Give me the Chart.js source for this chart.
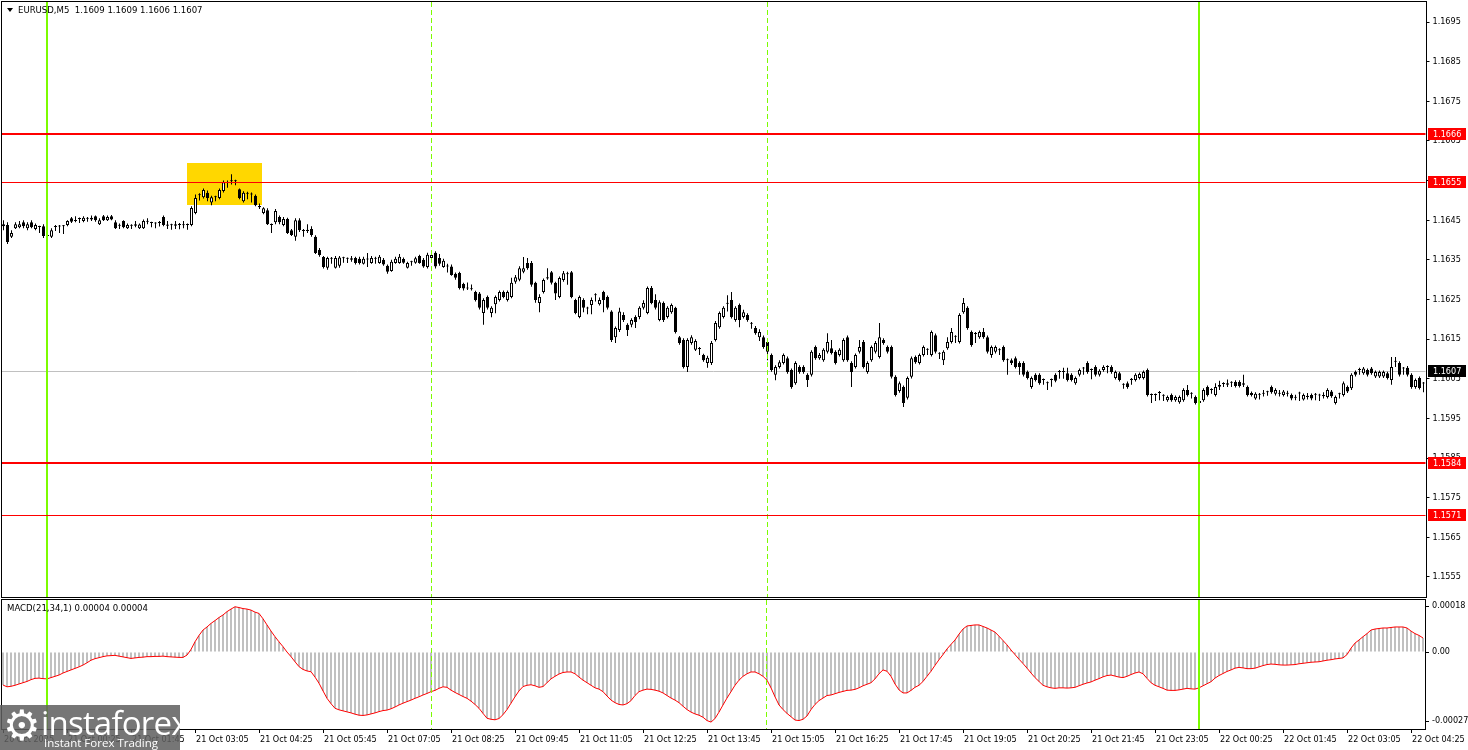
<!DOCTYPE html>
<html><head><meta charset="utf-8">
<script src="https://cdn.jsdelivr.net/npm/chart.js@4.4.0/dist/chart.umd.min.js"></script>
<style>
html,body{margin:0;padding:0;background:#fff;width:1468px;height:750px;overflow:hidden;}
#cMain{position:absolute;left:0;top:0;}
#cMacd{position:absolute;left:0;top:599px;}
#wm{position:absolute;left:0;top:705px;width:180px;height:45px;background:rgba(96,96,96,0.86);color:#fff;overflow:hidden;font-family:'Open Sans','DejaVu Sans',sans-serif;}
#wm .gear{position:absolute;left:3px;top:-3px;font-size:42px;line-height:48px;font-family:'DejaVu Sans';}
#wm .big{position:absolute;left:41px;top:0px;font-size:33px;line-height:36px;letter-spacing:-0.8px;}
#wm .small{position:absolute;left:44px;top:31px;font-size:11.5px;line-height:13px;}
</style></head><body>
<canvas id="cMain" width="1468" height="599"></canvas>
<canvas id="cMacd" width="1468" height="151"></canvas>
<div id="wm"><span class="gear">⚙</span><span class="big">instaforex</span><span class="small">Instant Forex Trading</span></div>
<script>
// ---------- DATA ----------
// EURUSD M5 prices, stored as pips above BASE (price = BASE + pips * PIP)
const BASE = 1.16, PIP = 0.0001;
const openPips = [
44,43.8,40.8,43,43.2,44.5,43,44.5,42.8,43.5,
43.5,41.2,40.8,43.5,43.5,43.5,43.8,45.5,44.8,45.5,
44.8,45.6,45.2,46,44,46,45,46,44.5,43.8,
44.8,43,43.8,43.6,43,43,44.6,44.4,44.3,44.5,
45.8,43.6,43.9,43.6,44,43.7,44,43.8,46.8,51.5,
50.8,51.9,49.5,51,50.6,52.4,54.6,54.8,55,52.8,
49.8,51.9,51.7,51.2,48.3,46.8,47.5,44,44.5,45.8,
43.8,45.3,42.5,40.8,45,42.5,42.3,42.8,40.8,37.5,
35.7,33,35.5,33,33.5,35.6,35.4,35,35.5,35.3,
34,35.3,34.2,35.5,34.2,35,33.5,32.2,34.2,34.2,
35.2,33,34.6,34.3,36,35,33.2,35.5,36.8,35.5,
33.2,33.5,33.3,31.5,31.7,28.9,28,27.8,26.9,26.5,
21.6,25.6,21.6,23.8,24.9,26.9,24.9,25.6,29.5,30,
32,34.2,34.2,29.2,24.1,26.9,30.3,31.9,29.2,25.6,
29.9,31.6,31.9,24.9,20.6,24.9,22.9,23.6,26.3,23.8,
26.9,25.6,22,15.5,17.3,21.1,18.6,18.6,20.6,20.6,
22.9,21.6,27.9,24.9,19.8,24.1,20.6,21.8,22.9,15.5,
14.8,8,14,12.3,12.7,11,9,9,14.8,18,
20.6,23.9,24.9,19.8,23.6,20.6,21.1,19.1,17.8,15.5,
15.5,14.3,11,6,8,9,10.2,7.2,3.9,8,
8,6,6,13,10.2,9.7,11.8,12.7,11.8,11,
9.7,15.5,9,8,11.8,14.3,6.7,9.7,11.8,10.5,
14.8,13,13,5.5,1.9,2.9,0.2,5.5,10.5,9,
11,12.5,11,16,11.5,9.7,12.7,14.3,15.8,14.3,
21.8,22.9,16.8,16.5,15.5,16.8,15.5,11,11.8,12.4,
13,9.9,9.7,10.2,9,9,6.7,2.9,6,6,
4.9,4.1,4.9,6,6.9,6.9,6.4,6,3.9,6,
7.8,9,7.4,8,6,7.2,8.2,8,5.2,6.4,
3.7,3.9,5,4.7,5.2,5.2,7.2,1.1,1.1,1.6,
0.9,-0.4,0.9,-0.4,-0.9,-0.4,2.2,1.4,0.4,-0.6,
-0.4,2.9,2.4,0.9,3,3.9,3.5,4.2,4.2,4.2,
3.5,2.9,1.4,0,1.2,1.2,1.8,2.9,1.2,1.2,
0.9,1.2,0.9,0.2,1.5,-0.2,0.4,0.9,1.2,1,
0.6,0.4,1.8,-1.1,1.3,0.9,2.9,2.6,6.7,7.4,
6.4,7.2,7.6,5.6,5.6,5.6,6.4,4.7,9.5,9,
7.8,7.8,6,2.9,5.2,4];
const highPips = [
45,44.5,42.5,44.5,44.8,45,44.5,45,44.2,43.6,
44,41.5,43,43.8,43.8,43.8,45,45.8,46,45.7,
46,45.8,46.2,46.2,45.5,46.3,46.2,46.3,45,44.2,
45,44.2,44,44.8,44.2,45.2,45.5,44.6,44.5,44.8,
46.2,44.8,44.1,44.8,44.3,44.8,44.2,48.5,51.5,51.8,
53,52.5,51.2,51.2,53,55,55,56.6,55.2,53,
52.3,52.2,52,51.5,49.2,48.3,48,44.2,47.8,46.2,
45.8,45.6,42.8,45.5,45.5,42.8,44,43.5,41.2,38,
36,35.8,35.7,36,36,35.8,35.6,36,35.8,35.8,
35.8,36.7,36,35.8,36.2,35.5,33.8,35,35.8,36.5,
35.6,34.5,34.8,35.8,36.3,35.5,36.8,36.6,37.2,36.5,
35.3,34,33.8,31.8,32,29.2,29.3,28.8,27.2,26.9,
25.3,26,23.3,26,27.3,27.3,27.3,30.5,31.2,33.4,
35.7,35.5,34.7,29.5,26.3,30.3,32.9,32.2,29.5,30.8,
32.2,32,32.2,25.2,26,25.3,23.2,25.5,26.6,25.5,
27.2,26,22.3,18.2,22.9,21.8,19,20.3,21,23.3,
24.8,28.3,28.4,26.3,24.8,24.5,23.3,24,23.2,15.8,
15.2,15.2,16,15,13,11.3,10.8,14.5,19.6,22,
23.3,26.1,26.9,23.3,24,22.4,21.5,19.3,18.3,17.5,
15.9,14.8,11.4,8.4,9.7,11.4,10.6,7.6,9.4,8.4,
8.4,6.4,12.2,13.4,11.5,12.7,16.5,14.8,12.2,12.7,
15.2,15.9,9.4,11.4,14.8,14.8,9.4,13.4,14.5,19.1,
15.2,13.4,13.4,5.9,4.3,3.3,5.6,10.6,10.9,11.4,
13.4,12.7,17.2,16.4,11.7,12.2,15.5,17.8,16,21.5,
25.4,23.3,17.2,16.8,17.2,17.8,15.9,13.4,13.4,12.7,
13.4,10.1,10.1,10.6,9.4,9.4,7.1,5.6,6.4,6.4,
5.1,4.3,5.1,6.4,7.2,7.8,7.8,6.4,5.6,7.6,
8,9.4,7.6,8.4,7.4,8.4,8.4,8.4,7.1,6.8,
3.9,4.3,5.2,6.4,6.6,7.1,7.6,1.3,1.3,1.9,
1.1,0.8,1.3,0.8,0.8,2.6,3.4,1.6,0.8,0.4,
2.6,3.3,2.6,3.9,4.5,4.1,4.8,4.4,4.6,4.6,
6,3.3,1.8,1.6,1.4,2.2,2,3.3,2.6,2.2,
2.2,2,1.3,1,1.7,1.3,1.4,1.3,1.4,1.2,
1.6,2.6,2.2,0.8,1.5,4.3,3.3,6.4,7.1,7.8,
8,7.6,8,7.1,7.1,7.1,6.8,10.5,10.5,9.4,
8,8.2,6.4,5.1,5.6,4.2];
const lowPips = [
42.5,39,40.5,42.8,43,43,42.5,43,42.5,41.8,
40.5,40,40.5,42.3,41.8,41.5,43.5,44.3,44.5,44.3,
44.5,44.6,44.8,44.6,43.8,44.8,44.8,45,42.8,42.8,
43,42.8,42.8,43.2,42.8,42.8,44,43.2,43,43.4,
43.5,42.8,42.6,42.8,42.7,43,42.6,43.5,46.5,50,
50.5,49.8,48.8,49.8,50.3,52,53.2,54,53.8,50.3,
49.5,50.3,49.5,48.5,47.8,46.5,43.8,41.8,44,44,
43.5,41.5,41,39.8,42,40.8,41.8,40.8,36.5,35.8,
32.8,32.5,34,32.8,33,34.3,34.2,34.5,33.8,33.8,
33.8,33.2,34,34,34,33.5,31.5,32,34,34,
34,32.8,33.5,34,34,33,32.8,35,32.8,33.5,
33,31.8,31,30,27.5,27.3,27.4,27.3,24.5,22.5,
18.6,22.5,20.5,21.5,24.5,25.3,24.5,25.3,29,29.6,
31.6,32.5,28.2,24.2,21.8,26.5,30,28.8,24.9,25.3,
29.5,28.7,25.3,21.3,20.3,21.8,21.3,21.3,24.5,23.5,
21.8,22.5,14.3,14,16.8,19.3,15.8,18,17.8,20,
22.5,21.3,23.8,22.5,19.5,19.3,20.2,21.4,16.4,13.6,
7.6,6.7,13.6,12,11,9.3,7.8,8.5,14.4,17.6,
20.2,22,20.2,19.4,18,20.2,19.4,17.6,16.1,14.5,
12.6,9.7,6.8,4.6,7.6,8.6,6.3,2.5,3.5,6.3,
6.3,2.9,5.6,9.8,9.8,9.3,11.4,11.1,8.6,10.6,
9.3,9.3,2.9,7.6,11.4,7.6,6.3,9.3,11.4,10.1,
13.6,11.4,5.1,0.5,1.5,-2.1,-0.2,5.1,8.8,8.6,
10.6,11,10.6,11.4,10,8.5,12.3,13.9,14,13.9,
21.4,17.4,13.1,14,15.1,15.1,11.4,10.3,11.4,11,
9.3,6,8.5,7.6,6,5.6,4.8,2.5,4.3,3.5,
3.5,2.2,3,4.1,5,5,4.3,4.3,3.5,5.6,
6,6.3,4.9,5.6,5.6,6.8,6.4,6.3,4.8,4.3,
2.5,2.5,3.5,4.3,4.8,4.8,0.5,-1.1,-0.6,-0.4,
-0.6,-0.8,-0.8,-0.8,-1.3,-0.8,0.5,0,-1.5,-1.5,
-0.8,0.5,1.2,0.5,2.2,2.9,2.9,2.9,2.8,2.8,
2.9,0.5,0.5,-0.3,-0.2,0.5,0.7,1.2,0.8,0.5,
0.5,0.5,-0.4,-0.4,-0.6,-0.5,-0.2,-0.4,-0.4,-0.6,
0,0,0.2,-1.5,0,0.5,1.4,2.2,5.6,6,
6,5.6,6,5.2,5.2,5.2,4.8,3.5,8,5.6,
6,5.6,2.5,2.5,2.3,1.6];
const closePips = [
43.5,39.5,41.8,44,44,43.5,44,43.2,43.8,43.3,
41,41,42.5,43.3,43.4,43.6,44.8,44.6,45,45.3,
45.6,45.4,45.6,45,45,45,45.8,45.2,43,43.6,
43.2,43.8,43.6,44,43.9,44.8,44.8,44.3,44.2,44.3,
43.8,43.9,43.7,44,43.8,44,43.8,48.1,50.6,51.3,
52.6,50.6,50.8,50.8,52.6,54.6,54.4,55,54.8,50.6,
51.9,51.7,51.5,48.8,48.6,48,44,43.8,47.3,44.5,
45.3,41.8,41.3,45,42.5,42.3,42.6,41.3,36.7,36.2,
33.2,35.5,35.3,35.5,35.6,35.4,35.3,35.4,34.2,34.2,
35.3,35.1,35.5,35.3,35.8,33.8,32,34.5,35.3,35.8,
34.3,34.2,34.4,35.4,34.2,33.3,36.3,36.2,33.3,34,
34.8,33.3,31.2,30.5,27.9,27.8,27.8,27.6,24.9,22.9,
24.9,22.9,22.9,25.6,26.9,25.6,26.9,29.2,30.6,32.9,
32.9,32.9,28.7,24.9,25.6,29.9,30.6,29.2,26.5,30.4,
31.6,31.4,25.6,21.6,25.6,22.9,22.7,24.9,26.1,24.9,
24.9,22.9,14.8,17.8,22,19.8,17.3,19.8,19.3,22.9,
24.1,27.9,24.1,22.9,24.3,19.8,22.9,23.6,16.8,14,
8,14.8,15.5,14.5,12.5,9.7,10.3,14,19.1,21.6,
22.9,24.1,20.6,22.9,19.8,21.8,19.8,18.9,16.5,16.8,
13,11.8,7.2,8,9.2,11,6.7,2.9,9,6.7,
6.7,4.7,11.8,10.2,11,12.3,14.3,11.5,9,12.3,
14.8,9.7,6.7,11,13,8,9,13,14,15.5,
14,11.8,5.5,0.9,3.9,-1.1,5.2,10.2,9.2,11,
13,12.3,16.8,11.8,11.3,11.8,14.3,16.8,15.6,21.1,
24.1,17.8,13.5,16.3,16.8,15.5,11.8,13,13,12.2,
9.7,9.7,9,8,8,6,5.2,5.2,4.7,3.9,
4.7,3.9,4.7,4.5,6.7,6.7,4.7,4.7,5.2,7.2,
7.6,6.7,7.2,6,7,8,8,6.7,6.7,4.7,
3.5,2.9,4.7,6,6.2,6.7,0.9,0.9,0.9,1.4,
0.7,0.4,-0.4,0.4,0.4,2.2,0.9,1.2,-1.1,-1.1,
2.2,0.9,2.2,2.9,3.4,3.7,3.9,4,3.2,3.2,
3.9,0.9,0.9,1.2,1,1.4,1.6,1.6,2.2,1.4,
1.8,1.4,0,0.4,1.3,0.9,0.7,0,1,0.8,
0.9,2.2,0.6,0.4,1.1,3.9,1.8,6,6,7.2,
7.6,6,6.4,6.7,6.7,6.7,5.2,8,9.3,6,
7.6,6,2.9,4.7,2.7,3.8];
// MACD(21,34,1) main line per bar, in units of 1e-5
const macdE5 = [
-12.9,-13.6,-13.4,-13,-12.5,-12,-11.5,-10.8,-10.3,-10.2,-10.4,
-10.5,-10,-9.5,-9,-8.2,-7.6,-7,-6.4,-5.8,-5.1,
-4.2,-3.2,-2.6,-2.2,-1.8,-1.5,-1.4,-1.3,-1.6,-1.9,
-2.2,-2.5,-2.3,-2.1,-2,-1.8,-1.8,-1.7,-1.7,-1.6,
-1.8,-1.9,-2,-2.1,-2.1,-1.2,1.0,
4,6.5,8.6,9.8,11.2,12.3,13.5,14.5,15.8,16.8,17.7,
17.4,17.0,16.8,16.4,15.6,15.1,13,10.6,8.2,6,4,2.1,
0,-1.8,-3.8,-5.7,-6.8,-7.4,-7.7,-9.8,-12.2,-15.2,-18.1,-20.2,-22,
-22.6,-23,-23.4,-23.8,-24.3,-24.7,-24.8,-24.6,-24.2,-23.8,-23.3,-22.9,
-22.7,-22.2,-21.5,-20.7,-20,-19.4,-18.8,-18.1,-17.5,-16.8,-16.2,-15.5,
-15,-14.2,-13.6,-13.8,-14.9,-15.8,-16.6,-17.4,-18.1,-19.2,-20.5,-22,-24,-25.9,
-26.3,-26.5,-26,-24.5,-22.5,-20,-17.5,-15.2,-13.5,-13,
-12.8,-13.2,-13.8,-13.5,-12,-10.5,-9.5,-8.6,-8,-7.8,
-7.8,-8.5,-9.8,-11,-12,-13,-14,-14.5,-15.5,-17.2,-18.8,
-19.8,-20.5,-20.7,-20.2,-19,-17,-15.5,-14.9,-14.5,-14.6,
-14.9,-15.3,-16,-17,-18,-18.8,-19.8,-21.2,-22.5,-23.5,-24.2,-24.7,-25.5,-26.8,-27.4,
-26,-23.5,-20.7,-18,-15.5,-13,-11,-9.5,-8.5,-7.8,-7.8,-8.5,-9.5,-11,
-14,-17.5,-20.7,-22.5,-24,-25.3,-26.6,-26.8,-26.3,-25,-22.5,-20.5,-19,-18,-17,
-16.8,-16.3,-15.8,-15.4,-15,-14.9,-14.6,-14,-13.2,-12.6,-12,-10.5,-8.5,-7,
-7.5,-9.5,-12.5,-14.8,-16,-16,-15,-13.8,-13,-11.5,-9.5,-7.5,-5.2,-3,
-1,1.2,3,4.7,7,9,10.2,10.4,10.6,10.6,10,9.4,8.6,7.8,
6.2,4.5,2.8,0.8,-1,-2.8,-4.5,-6.3,-8.2,-10,-11.5,-13,-13.6,-14,-14.2,-14,
-14,-14.1,-14,-13.8,-13.2,-12.6,-12.1,-11.7,-11,-10.4,-9.7,-9.2,-9,-9.4,-9.8,-10,
-9.5,-8.8,-8.2,-7.8,-8.5,-10.3,-12,-13,-13.6,-14.2,-14.9,-15,-15,-14.8,-14.5,-14.2,-14.4,-14.5,-14,
-13.2,-12.4,-11.6,-10.2,-9.2,-8.4,-7.6,-7,-6.3,-6,-6.2,-6.5,-6.5,-6.3,-5.8,-5.3,
-4.9,-4.7,-4.8,-5,-5.1,-5.1,-5,-4.9,-4.6,-4.4,-4.2,-4,-3.9,-3.8,-3.5,-3.2,-3,-2.7,-2.5,-2.3,
-1,1.5,3.5,4.7,6,7.2,8.6,9,9.2,9.4,9.4,9.6,9.8,9.8,9.8,9.4,8.2,7.2,6.5,5.5];
const timeTickLabels = ['20 Oct 2025','21 Oct 00:25','21 Oct 01:45','21 Oct 03:05','21 Oct 04:25','21 Oct 05:45',
 '21 Oct 07:05','21 Oct 08:25','21 Oct 09:45','21 Oct 11:05','21 Oct 12:25','21 Oct 13:45','21 Oct 15:05',
 '21 Oct 16:25','21 Oct 17:45','21 Oct 19:05','21 Oct 20:25','21 Oct 21:45','21 Oct 23:05','22 Oct 00:25',
 '22 Oct 01:45','22 Oct 03:05','22 Oct 04:25'];
const BARS_PER_TIME_LABEL = 16;
const priceTicks = [1.1555,1.1565,1.1575,1.1585,1.1595,1.1605,1.1615,1.1625,1.1635,1.1645,1.1655,1.1665,1.1675,1.1685,1.1695];
const priceMin = 1.1550, priceMax = 1.1700;
const levelValues = [1.16668, 1.16546, 1.15838, 1.15706];
const levelLabels = ['1.1666', '1.1655', '1.1584', '1.1571'];
const bidPrice = 1.1607, bidLabel = '1.1607';
const dayBreakBars = [11, 299];       // 00:00 bars
const sessionBars = [107, 191];       // 08:00 and 15:00 bars
const zoneBars = [45.9, 64.6];        // highlighted zone (bar index range)
const zonePrices = [1.16488, 1.16594];
const headerText = 'EURUSD,M5  1.1609 1.1609 1.1606 1.1607';
const macdText = 'MACD(21,34,1) 0.00004 0.00004';
const macdTickValues = [0.00018, 0, -0.00027];
const macdTickLabels = ['0.00018', '0.00', '-0.00027'];
const macdMin = -0.000301, macdMax = 0.0002035;

// ---------- BUILD ----------
const FONT = "'DejaVu Sans Condensed','DejaVu Sans',sans-serif";
Chart.defaults.font.family = FONT;
Chart.defaults.font.size = 9;
Chart.defaults.color = '#000';
const N = closePips.length;
const px = p => +(BASE + p * PIP).toFixed(5);
const O = openPips.map(px), H = highPips.map(px), L = lowPips.map(px), C = closePips.map(px);
const M = macdE5.map(v => v * 1e-5);
const catLabels = Array.from({length: N}, (_, i) => i % BARS_PER_TIME_LABEL === 0 ? timeTickLabels[i / BARS_PER_TIME_LABEL] : '');
const GREEN = '#7CFC00';
const noPad = s => { s.paddingTop = 0; s.paddingBottom = 0; s.paddingLeft = 0; s.paddingRight = 0; };

function drawVLines(chart, top, bottom) {
  const {ctx, scales: {x}} = chart;
  ctx.save();
  ctx.fillStyle = GREEN;
  dayBreakBars.forEach(b => { const xx = Math.floor(x.getPixelForValue(b)); ctx.fillRect(xx - 1, top, 2, bottom - top); });
  ctx.strokeStyle = GREEN; ctx.lineWidth = 1; ctx.setLineDash([5, 3]);
  sessionBars.forEach(b => { const xx = Math.floor(x.getPixelForValue(b)) + 0.5; ctx.beginPath(); ctx.moveTo(xx, top); ctx.lineTo(xx, bottom); ctx.stroke(); });
  ctx.restore();
}
function frame(chart, f) {
  const {ctx, chartArea: a} = chart;
  ctx.save(); ctx.fillStyle = '#000';
  const r = Math.round(a.right);
  ctx.fillRect(1, f.top, r - 1, 1);
  ctx.fillRect(1, f.bottom, r - 1, 1);
  ctx.fillRect(1, f.top, 1, f.bottom - f.top);
  ctx.fillRect(r, f.top, 1, f.bottom - f.top + 1);
  ctx.restore();
}
function tag(ctx, xL, y, text, bg) {
  ctx.fillStyle = bg; ctx.fillRect(xL, Math.round(y) - 6, 38, 12);
  ctx.fillStyle = '#fff'; ctx.textBaseline = 'middle'; ctx.textAlign = 'left';
  ctx.fillText(text, xL + 5, Math.round(y) + 0.5);
}

const mainDecor = {
  id: 'mainDecor',
  beforeDatasetsDraw(chart) {
    const {ctx, scales: {x, y}} = chart;
    const x1 = x.getPixelForValue(zoneBars[0]), x2 = x.getPixelForValue(zoneBars[1]);
    const y1 = y.getPixelForValue(zonePrices[1]), y2 = y.getPixelForValue(zonePrices[0]);
    ctx.save(); ctx.fillStyle = '#FFD700'; ctx.fillRect(Math.round(x1), Math.round(y1), Math.round(x2 - x1), Math.round(y2 - y1)); ctx.restore();
    const yb = Math.round(y.getPixelForValue(bidPrice)) + 0.5;
    ctx.save(); ctx.strokeStyle = '#C0C0C0'; ctx.lineWidth = 1; ctx.beginPath(); ctx.moveTo(1, yb); ctx.lineTo(chart.chartArea.right, yb); ctx.stroke(); ctx.restore();
  },
  afterDatasetsDraw(chart) {
    const {ctx, chartArea: a, scales: {y}} = chart;
    drawVLines(chart, 2, 597);
    ctx.save(); ctx.fillStyle = '#FF0000';
    levelValues.forEach((v, i) => {
      const yy = y.getPixelForValue(v); const w = (i % 2 === 0) ? 2 : 1;
      ctx.fillRect(1, Math.round(yy - w / 2), a.right - 1, w);
    });
    ctx.restore();
  },
  afterDraw(chart) {
    const {ctx, chartArea: a, scales: {y}} = chart;
    frame(chart, {top: 1, bottom: 597});
    ctx.save();
    ctx.font = '9px ' + FONT;
    const xL = Math.round(a.right) + 2;
    levelValues.forEach((v, i) => tag(ctx, xL, y.getPixelForValue(v), levelLabels[i], '#FF0000'));
    tag(ctx, xL, y.getPixelForValue(bidPrice), bidLabel, '#000');
    ctx.font = '9.5px ' + FONT;
    ctx.fillStyle = '#000'; ctx.textBaseline = 'middle'; ctx.textAlign = 'left';
    ctx.beginPath(); ctx.moveTo(7, 8); ctx.lineTo(13, 8); ctx.lineTo(10, 12); ctx.closePath(); ctx.fill();
    ctx.fillText(headerText, 18, 10.5);
    ctx.restore();
  }
};

new Chart(document.getElementById('cMain'), {
  type: 'bar',
  data: {
    labels: catLabels,
    datasets: [
      { label: 'body', data: O.map((o, i) => [o, C[i]]),
        backgroundColor: O.map((o, i) => C[i] >= o ? '#FFFFFF' : '#000000'),
        borderColor: '#000', borderWidth: 1, borderSkipped: false, barThickness: 3,
        minBarLength: 1, grouped: false, order: 0, inflateAmount: 0 },
      { label: 'wick', data: L.map((l, i) => [l, H[i]]), backgroundColor: '#000',
        borderWidth: 0, barThickness: 1, minBarLength: 1, grouped: false, order: 1, inflateAmount: 0 }
    ]
  },
  options: {
    responsive: false, animation: false, events: [],
    layout: { padding: { left: 1.5, top: 2.2, right: 0, bottom: 2.2 } },
    plugins: { legend: { display: false }, tooltip: { enabled: false } },
    scales: {
      x: { display: false, offset: true },
      y: { position: 'right', min: priceMin, max: priceMax,
        afterFit: s => { s.width = 42.5; noPad(s); },
        afterBuildTicks: s => { s.ticks = priceTicks.map(v => ({ value: v })); },
        ticks: { callback: v => v.toFixed(4), padding: 3, color: '#000', font: { size: 9 } },
        grid: { drawOnChartArea: false, drawTicks: true, tickLength: 4, color: '#000' },
        border: { display: false } }
    }
  },
  plugins: [mainDecor]
});

const macdDecor = {
  id: 'macdDecor',
  afterDatasetsDraw(chart) { drawVLines(chart, 1, 130); },
  afterDraw(chart) {
    const {ctx} = chart;
    frame(chart, {top: 0, bottom: 130});
    ctx.save(); ctx.font = '9.5px ' + FONT; ctx.fillStyle = '#000'; ctx.textBaseline = 'middle'; ctx.textAlign = 'left';
    ctx.fillText(macdText, 7, 9.5); ctx.restore();
  }
};

new Chart(document.getElementById('cMacd'), {
  type: 'bar',
  data: {
    labels: catLabels,
    datasets: [
      { type: 'line', data: M, borderColor: '#FF0000', borderWidth: 1, pointRadius: 0, tension: 0, order: 0 },
      { type: 'bar', data: M, backgroundColor: '#C0C0C0', barThickness: 2, grouped: false, order: 1, inflateAmount: 0 }
    ]
  },
  options: {
    responsive: false, animation: false, events: [],
    layout: { padding: { left: 1, top: 1, right: 0, bottom: 0 } },
    plugins: { legend: { display: false }, tooltip: { enabled: false } },
    scales: {
      x: { offset: true, afterFit: s => { s.height = 21; noPad(s); },
        ticks: { autoSkip: false, maxRotation: 0, minRotation: 0, align: 'start', labelOffset: 1, padding: 1, color: '#000',
          callback: (v, i) => catLabels[i], font: { size: 9 } },
        grid: { offset: false, drawOnChartArea: false, drawTicks: true, tickLength: 4,
          color: c => (c.index % BARS_PER_TIME_LABEL === 0 ? '#000' : 'rgba(0,0,0,0)') },
        border: { display: false } },
      y: { position: 'right', min: macdMin, max: macdMax,
        afterFit: s => { s.width = 43; noPad(s); },
        afterBuildTicks: s => { s.ticks = macdTickValues.map(v => ({ value: v })); },
        ticks: { callback: (v, i) => macdTickLabels[i], padding: 3, color: '#000', font: { size: 9 } },
        grid: { drawOnChartArea: false, drawTicks: true, tickLength: 4, color: '#000' },
        border: { display: false } }
    }
  },
  plugins: [macdDecor]
});
</script>
</body></html>
